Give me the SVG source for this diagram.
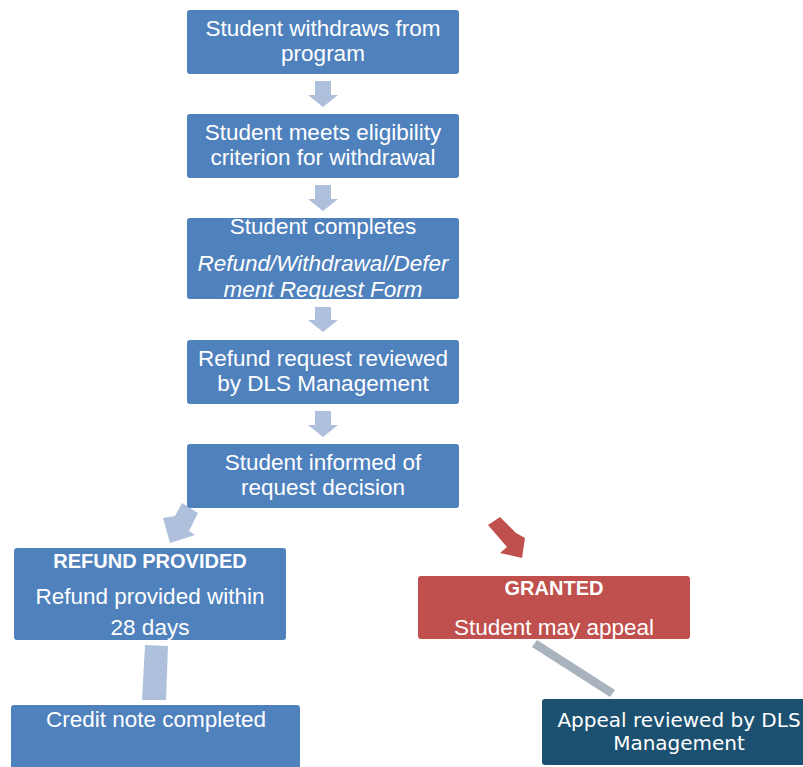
<svg xmlns="http://www.w3.org/2000/svg" width="803" height="767" viewBox="0 0 803 767">
<defs>
<style>
.box{fill:#4F81BD;}
.red{fill:#C0504D;}
.dark{fill:#1C5070;}
.t{font-family:"Liberation Sans","Open Sans",sans-serif;font-size:22.5px;fill:#fff;text-anchor:middle;}
.b{font-weight:bold;font-size:20px;}
.i{font-style:italic;}
.g{font-family:"DejaVu Sans",sans-serif;font-size:20px;fill:#fff;text-anchor:middle;}
.la{fill:#AFC0DC;}
</style>
</defs>
<rect width="803" height="767" fill="#fff"/>
<g id="connectors">
<polygon class="la" points="315,81 331,81 331,95 338,95 323,107 308,95 315,95"/>
<polygon class="la" points="315,185 331,185 331,199 338,199 323,211 308,199 315,199"/>
<polygon class="la" points="315,307 331,307 331,320 338,320 323,332 308,320 315,320"/>
<polygon class="la" points="315,411 331,411 331,425 338,425 323,437 308,425 315,425"/>
<polygon class="la" points="182,503 198,513 189,531 195,535 170,543 163,518 175,516"/>
<polygon class="la" points="145,645 168,646 166,700 142,700"/>
<polygon fill="#C0504D" points="488,525 500,517 516,533 525,538 522,558 500,553 507,547"/>
<polygon fill="#A9B3BD" points="532,647 537,640 615,690 610,697"/>
</g>
<g id="n1"><rect class="box" x="187" y="10" width="272" height="64" rx="3"/>
<text class="t" x="323" y="36">Student withdraws from</text><text class="t" x="323" y="61">program</text></g>
<g id="n2"><rect class="box" x="187" y="114" width="272" height="64" rx="3"/>
<text class="t" x="323" y="140">Student meets eligibility</text><text class="t" x="323" y="165">criterion for withdrawal</text></g>
<g id="n3"><rect class="box" x="187" y="218" width="272" height="81" rx="3"/>
<text class="t" x="323" y="234">Student completes</text><text class="t i" x="323" y="271">Refund/Withdrawal/Defer</text><text class="t i" x="323" y="297">ment Request Form</text></g>
<g id="n4"><rect class="box" x="187" y="340" width="272" height="64" rx="3"/>
<text class="t" x="323" y="366">Refund request reviewed</text><text class="t" x="323" y="391">by DLS Management</text></g>
<g id="n5"><rect class="box" x="187" y="444" width="272" height="64" rx="3"/>
<text class="t" x="323" y="470">Student informed of</text><text class="t" x="323" y="495">request decision</text></g>
<g id="n6"><rect class="box" x="14" y="548" width="272" height="92" rx="3"/>
<text class="t b" x="150" y="568">REFUND PROVIDED</text><text class="t" x="150" y="604">Refund provided within</text><text class="t" x="150" y="635">28 days</text></g>
<g id="n7"><rect class="box" x="11" y="705" width="289" height="70" rx="3"/>
<text class="t" x="156" y="727">Credit note completed</text></g>
<g id="n8"><rect class="red" x="418" y="576" width="272" height="63" rx="3"/>
<text class="t b" x="554" y="595">GRANTED</text><text class="t" x="554" y="635">Student may appeal</text></g>
<g id="n9"><rect class="dark" x="542" y="699" width="270" height="66" rx="3"/>
<text class="g" x="679" y="727">Appeal reviewed by DLS</text><text class="g" x="679" y="750">Management</text></g>
</svg>
